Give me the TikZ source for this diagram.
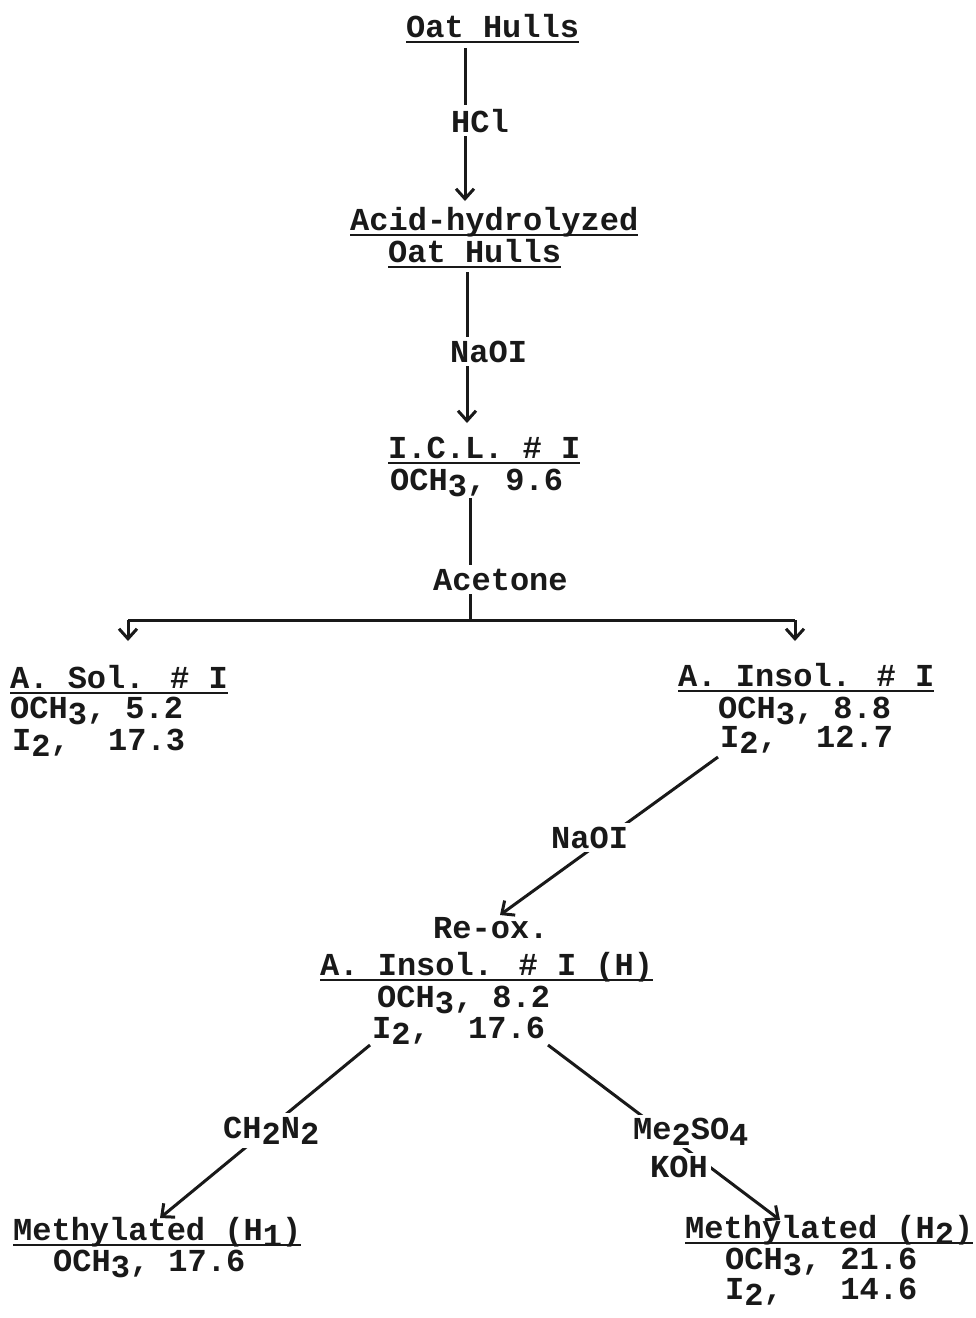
\documentclass[tikz,border=0pt]{standalone}
\usepackage{fontspec}
\usetikzlibrary{arrows.meta}
\newfontfamily\tw{Liberation Mono}[BoldFont={Liberation Mono Bold}]
\newcommand\dn[1]{\raisebox{-0.2em}{#1}}
\tikzset{
  txt/.style={anchor=base west, inner sep=0pt, font=\tw\bfseries\fontsize{32}{34}\selectfont, text=black!90},
  lbl/.style={txt, fill=white, inner xsep=3pt, inner ysep=4pt},
  conn/.style={line width=3pt, draw=black!90},
  arr/.style={conn, -{Straight Barb[length=10pt,width=18pt,line width=3pt]}},
  ul/.style={line width=2.6pt, draw=black!90}
}
\begin{document}
\begin{tikzpicture}[x=1pt,y=-1pt]
\fill[white] (0,0) rectangle (976,1318);
\useasboundingbox (0,0) rectangle (976,1318);

% connectors (drawn first, labels cover them)
\coordinate (c1a) at (465,48);   \coordinate (c1b) at (465,201);
\coordinate (c2a) at (467,272);  \coordinate (c2b) at (467,423);
\coordinate (c3a) at (470,498);  \coordinate (c3b) at (470,620);
\coordinate (hl) at (128,620);   \coordinate (hr) at (795,620);
\coordinate (hlb) at (128,641);  \coordinate (hrb) at (795,641);
\coordinate (c4a) at (718,757);  \coordinate (c4b) at (500,915);
\coordinate (c5a) at (370,1045); \coordinate (c5b) at (160,1218);
\coordinate (c6a) at (548,1045); \coordinate (c6b) at (780,1220);

\draw[arr] (c1a) -- (c1b);
\draw[arr] (c2a) -- (c2b);
\draw[conn] (c3a) -- (c3b);
\draw[conn] (hl) -- (hr);
\draw[arr] (hl) -- (hlb);
\draw[arr] (hr) -- (hrb);
\draw[arr] (c4a) -- (c4b);
\draw[arr] (c5a) -- (c5b);
\draw[arr] (c6a) -- (c6b);

% reagent labels
\node[lbl] (hcl) at (448,132) {HCl};
\node[lbl] (naoi1) at (447,362) {NaOI};
\node[lbl] (acet) at (430,590) {Acetone};
\node[lbl] (naoi2) at (548,848) {NaOI};
\node[lbl] (ch2n2) at (220,1138) {CH\dn{2}N\dn{2}};
\node[lbl, inner ysep=3pt] (me2so4) at (630,1139) {Me\dn{2}SO\dn{4}};
\node[lbl, inner ysep=3pt] (koh) at (647,1177) {KOH};

% compounds
\node[txt] (oat) at (406,37) {Oat Hulls};
\node[txt] (acid1) at (350,230) {Acid-hydrolyzed};
\node[txt] (acid2) at (388,262) {Oat Hulls};
\node[txt] (icl) at (388,458) {I.C.L. \# I};
\node[txt] (icl1) at (390,490) {OCH\dn{3}, 9.6};
\node[txt] (sol) at (10,688) {A. Sol. \# I};
\node[txt] (sol1) at (10,718) {OCH\dn{3}, 5.2};
\node[txt] (sol2) at (12,750) {I\dn{2},~~17.3};
\node[txt] (ins) at (678,686) {A. Insol. \# I};
\node[txt] (ins1) at (718,718) {OCH\dn{3}, 8.8};
\node[txt] (ins2) at (720,747) {I\dn{2},~~12.7};
\node[txt] (rox) at (433,938) {Re-ox.};
\node[txt] (rh) at (320,975) {A. Insol. \# I (H)};
\node[txt] (rh1) at (377,1007) {OCH\dn{3}, 8.2};
\node[txt] (rh2) at (372,1038) {I\dn{2},~~17.6};
\node[txt] (m1) at (13,1240) {Methylated (H\dn{1})};
\node[txt] (m11) at (53,1271) {OCH\dn{3}, 17.6};
\node[txt] (m2) at (685,1238) {Methylated (H\dn{2})};
\node[txt] (m21) at (725,1269) {OCH\dn{3}, 21.6};
\node[txt] (m22) at (725,1299) {I\dn{2},~~~14.6};

% underlines
\foreach \n in {oat,acid1,acid2,icl,sol,ins,rh,m1,m2}
  \draw[ul] ([yshift=-5pt]\n.base west) -- ([yshift=-5pt]\n.base east);
\end{tikzpicture}
\end{document}
